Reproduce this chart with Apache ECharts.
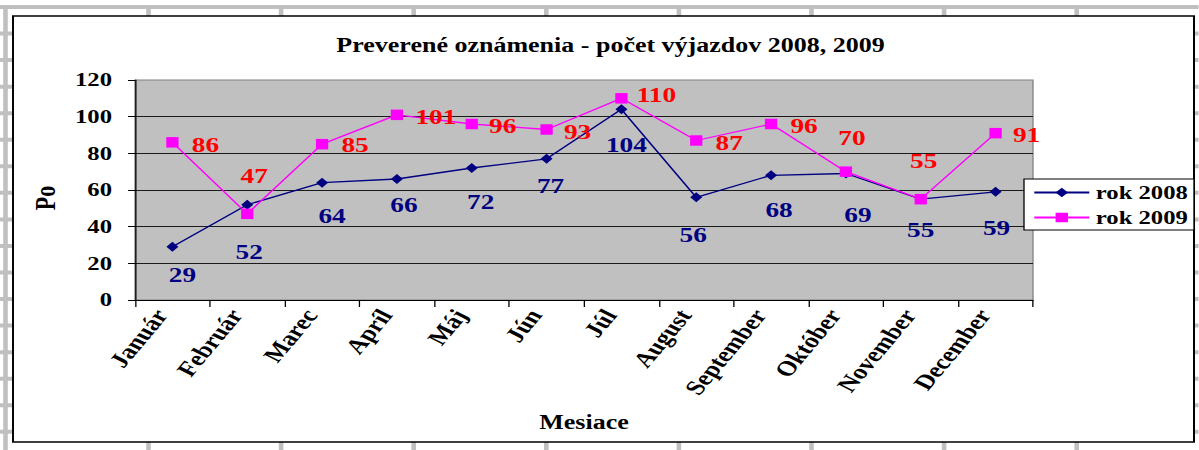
<!DOCTYPE html>
<html><head><meta charset="utf-8">
<script src="https://cdn.jsdelivr.net/npm/echarts@6/dist/echarts.min.js"></script>
<style>
html,body{margin:0;padding:0;background:#fff;overflow:hidden;width:1199px;height:450px;}
#chart{width:922.3px;height:450px;transform:scaleX(1.3);transform-origin:0 0;}
</style></head><body><div id="chart"></div>
<script>
// ---- data ----
const categories = ['Január','Február','Marec','Apríl','Máj','Jún','Júl','August','September','Október','November','December'];
const rok2008 = [29, 52, 64, 66, 72, 77, 104, 56, 68, 69, 55, 59];
const rok2009 = [86, 47, 85, 101, 96, 93, 110, 87, 96, 70, 55, 91];
const seriesNames = ['rok 2008', 'rok 2009'];
const yMin = 0, yMax = 120, yStep = 20;
const titleText = 'Preverené oznámenia - počet výjazdov 2008, 2009';
const xAxisName = 'Mesiace';
const yAxisName = 'Po';

// ---- layout (screen px; horizontal values are divided by the stretch) ----
const SX = 1.3;
const px = x => x / SX;
const FONT = "'Liberation Serif','Times New Roman',serif";
const labelOffsets2008 = [[10,28],[2,47],[10,33],[7,26],[9,34],[4,27],[5,35],[-3,37],[8,34],[12,41],[0,31],[1,36]];
const labelOffsets2009 = [[33,2],[7,-38],[33,1],[39,2],[31,2],[31,2],[35,-4],[33,2],[33,2],[6,-34],[3,-38],[31,2]];

// spreadsheet background decoration
const bg = [];
for (let k = 0; k < 17; k++) {
  bg.push({type:'rect', z:-20, shape:{x:0, y:5 + 26.55*k, width:px(1199), height:4}, style:{fill:'#C0C0C0'}});
}
const vCols = [5.5];
for (let k = 0; k < 9; k++) vCols.push(148.5 + 132.6*k);
vCols.forEach(x => bg.push({type:'rect', z:-19, shape:{x:px(x-2.3), y:5, width:px(4.6), height:445}, style:{fill:'#C0C0C0'}}));
bg.push({type:'rect', z:-15, shape:{x:px(13), y:16, width:px(1194-13), height:442-16},
  style:{fill:'#fff', stroke:'#000', lineWidth:1.5}});

function mkData(vals, offs) {
  return vals.map((v, i) => ({value: v, label: {offset: [px(offs[i][0]), offs[i][1]]}}));
}

const chart = echarts.init(document.getElementById('chart'), null, {renderer: 'svg'});
chart.setOption({
  animation: false,
  backgroundColor: '#fff',
  graphic: bg,
  title: {
    text: titleText, left: px(604), top: 30, textAlign: 'center',
    textStyle: {fontFamily: FONT, fontWeight: 'bold', fontSize: 20, color: '#000'}
  },
  legend: {
    orient: 'vertical', left: px(1024), top: 179,
    backgroundColor: '#fff', borderColor: '#000', borderWidth: 1,
    padding: [4, px(6), 3, px(9)], itemGap: 6, itemWidth: px(55), itemHeight: 12,
    textStyle: {fontFamily: FONT, fontWeight: 'bold', fontSize: 19, color: '#000'},
    data: seriesNames, z: 10
  },
  grid: {
    left: px(135), top: 80, width: px(898), height: 220,
    show: true, backgroundColor: '#C0C0C0', borderColor: '#808080', borderWidth: 1
  },
  xAxis: {
    type: 'category', data: categories, boundaryGap: true,
    axisLine: {lineStyle: {color: '#000', width: 1}},
    axisTick: {show: true, alignWithLabel: false, length: 7, lineStyle: {color: '#000'}},
    axisLabel: {interval: 0, rotate: 57, margin: 17, verticalAlign: 'bottom',
      fontFamily: FONT, fontWeight: 'bold', fontSize: 21, color: '#000'},
    splitLine: {show: false},
    name: xAxisName, nameLocation: 'middle', nameGap: 112,
    nameTextStyle: {fontFamily: FONT, fontWeight: 'bold', fontSize: 20, color: '#000'}
  },
  yAxis: {
    type: 'value', min: yMin, max: yMax, interval: yStep,
    axisLine: {show: true, lineStyle: {color: '#000', width: 1}},
    axisTick: {show: true, length: px(7), lineStyle: {color: '#000'}},
    axisLabel: {margin: px(23), fontFamily: FONT, fontWeight: 'bold', fontSize: 19, color: '#000'},
    splitLine: {show: true, showMaxLine: false, lineStyle: {color: '#1a1a1a', width: 1}},
    name: yAxisName, nameLocation: 'middle', nameRotate: 90, nameGap: 58,
    nameTextStyle: {fontFamily: FONT, fontWeight: 'bold', fontSize: 22, color: '#000', padding: [0, 16, 0, 0]}
  },
  series: [
    {
      name: seriesNames[0], type: 'line', data: mkData(rok2008, labelOffsets2008),
      symbol: 'diamond', symbolSize: [px(12), 10],
      itemStyle: {color: '#000080'}, lineStyle: {color: '#000080', width: 1.3},
      label: {show: true, position: 'inside', fontFamily: FONT, fontWeight: 'bold', fontSize: 21, color: '#000080'},
      emphasis: {disabled: true}, z: 3
    },
    {
      name: seriesNames[1], type: 'line', data: mkData(rok2009, labelOffsets2009),
      symbol: 'rect', symbolSize: [px(12.3), 10.5],
      itemStyle: {color: '#FF00FF'}, lineStyle: {color: '#FF00FF', width: 1.3},
      label: {show: true, position: 'inside', fontFamily: FONT, fontWeight: 'bold', fontSize: 21, color: '#FF0000'},
      emphasis: {disabled: true}, z: 4
    }
  ]
});
</script></body></html>
